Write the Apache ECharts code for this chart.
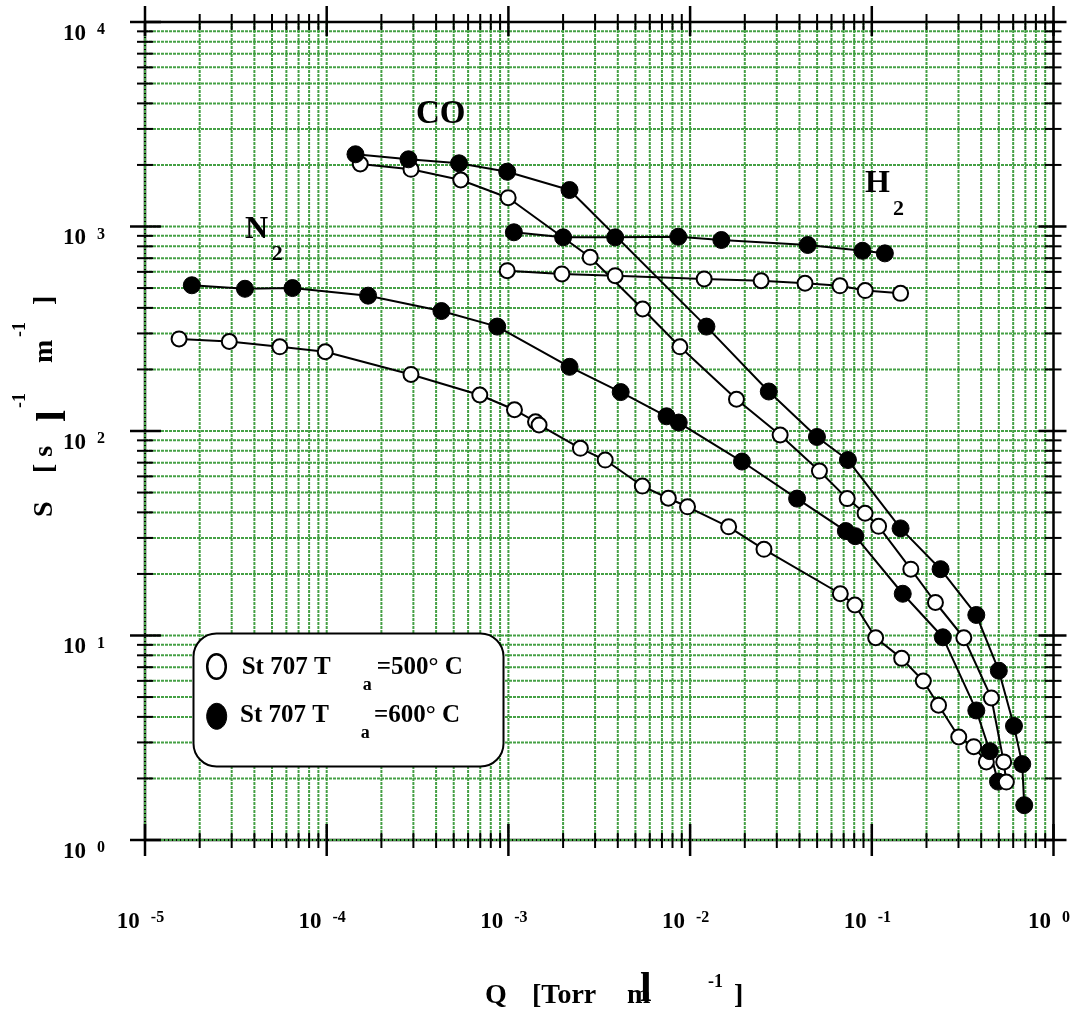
<!DOCTYPE html>
<html><head><meta charset="utf-8">
<script src="https://cdn.jsdelivr.net/npm/echarts@6/dist/echarts.min.js"></script>
<style>html,body{margin:0;padding:0;background:#fff}#c{width:1082px;height:1021px}</style>
</head><body><div id="c"></div>
<script>
// ---- data ----
const n2_500_Q = [1.54e-5, 2.91e-5, 5.52e-5, 9.82e-5, 2.91e-4, 6.96e-4, 1.08e-3, 1.41e-3, 1.475e-3, 2.49e-3, 3.41e-3, 5.46e-3, 7.59e-3, 9.68e-3, 1.63e-2, 2.55e-2, 6.71e-2, 8.07e-2, 0.105, 0.146, 0.192, 0.233, 0.301, 0.364, 0.427];
const n2_500_S = [282, 274, 258, 244, 189, 150, 127, 111, 107, 82.3, 72.1, 53.8, 46.9, 42.6, 34.0, 26.4, 16.0, 14.1, 9.75, 7.73, 5.99, 4.56, 3.19, 2.86, 2.41];
const n2_600_Q = [1.81e-5, 3.55e-5, 6.48e-5, 1.69e-4, 4.28e-4, 8.68e-4, 2.17e-3, 4.15e-3, 7.42e-3, 8.66e-3, 1.93e-2, 3.88e-2, 7.20e-2, 8.11e-2, 0.148, 0.246, 0.376, 0.446, 0.495];
const n2_600_S = [516, 496, 500, 459, 386, 324, 206, 155, 118, 110, 70.9, 46.7, 32.4, 30.6, 16.0, 9.80, 4.30, 2.72, 1.93];
const co_500_Q = [1.53e-4, 2.91e-4, 5.47e-4, 9.97e-4, 2.82e-3, 5.48e-3, 8.79e-3, 1.80e-2, 3.13e-2, 5.15e-2, 7.32e-2, 9.18e-2, 0.109, 0.164, 0.224, 0.321, 0.455, 0.532, 0.550];
const co_500_S = [2021, 1904, 1688, 1383, 707, 395, 258, 143, 95.6, 63.7, 46.7, 39.6, 34.2, 21.1, 14.5, 9.75, 4.95, 2.41, 1.92];
const co_600_Q = [1.44e-4, 2.82e-4, 5.35e-4, 9.85e-4, 2.17e-3, 1.23e-2, 2.71e-2, 4.99e-2, 7.39e-2, 0.144, 0.239, 0.376, 0.500, 0.606, 0.673, 0.690];
const co_600_S = [2255, 2131, 2037, 1853, 1508, 324, 156, 93.5, 72.1, 33.4, 21.1, 12.6, 6.73, 3.61, 2.35, 1.48];
const h2_500_Q = [9.85e-4, 1.97e-3, 3.87e-3, 1.195e-2, 2.46e-2, 4.29e-2, 6.68e-2, 9.20e-2, 0.144];
const h2_500_S = [608, 586, 575, 554, 543, 528, 513, 486, 471];
const h2_600_Q = [1.072e-3, 2.00e-3, 3.87e-3, 8.61e-3, 1.486e-2, 4.44e-2, 8.89e-2, 0.118];
const h2_600_S = [937, 885, 885, 891, 859, 812, 761, 739];

const xTickExp = ['-5', '-4', '-3', '-2', '-1', '0'];
const yTickExp = ['0', '1', '2', '3', '4'];
const xDecades = [-5, -4, -3, -2, -1];
const yDecades = [0, 1, 2, 3];
const mults = [1, 2, 3, 4, 5, 6, 7, 8, 9];
const legendLabels = ['St 707 T', 'a', '=500° C', '=600° C'];
const gasLabels = ['CO', 'N', 'H', '2'];

const FF = '"Liberation Serif","Times New Roman",Times,serif';
const chart = echarts.init(document.getElementById('c'));

function mk(name, q, s, filled) {
  return {
    type: 'line', name, data: q.map((v, i) => [v, s[i]]),
    symbol: 'circle', symbolSize: filled ? 17 : 15, showSymbol: true,
    lineStyle: { color: '#000', width: 2 },
    itemStyle: filled ? { color: '#000', borderColor: '#000', borderWidth: 1 } : { color: '#fff', borderColor: '#000', borderWidth: 2 },
    emphasis: { disabled: true }, z: 3, clip: false, animation: false
  };
}

const labelRich = {
  b: { fontFamily: FF, fontWeight: 'bold', fontSize: 23, lineHeight: 24, color: '#000' },
  s: { fontFamily: FF, fontWeight: 'bold', fontSize: 16, lineHeight: 10, verticalAlign: 'top', color: '#000', padding: [0, 0, 0, 11] },
  sx: { fontFamily: FF, fontWeight: 'bold', fontSize: 16, lineHeight: 10, verticalAlign: 'top', color: '#000', padding: [0, 9, 0, 11] }
};

chart.setOption({
  animation: false,
  backgroundColor: '#fff',
  grid: { left: 145, right: 25, top: 22, bottom: 181, show: true, borderColor: '#000', borderWidth: 2.5, backgroundColor: 'rgba(0,0,0,0)' },
  xAxis: {
    type: 'log', logBase: 10, min: 1e-5, max: 1,
    axisLine: { show: false }, axisTick: { show: false }, splitLine: { show: false },
    axisLabel: {
      margin: 70, verticalAlign: 'top',
      formatter: v => '{b|10}{sx|' + xTickExp[Math.round(Math.log10(v)) + 5] + '}',
      rich: labelRich
    }
  },
  yAxis: {
    type: 'log', logBase: 10, min: 1, max: 1e4,
    axisLine: { show: false }, axisTick: { show: false }, splitLine: { show: false },
    axisLabel: {
      margin: 40, verticalAlign: 'top',
      formatter: v => '{b|10}{s|' + yTickExp[Math.round(Math.log10(v))] + '}',
      rich: labelRich
    }
  },
  series: [
    mk('N2 500', n2_500_Q, n2_500_S, false),
    mk('N2 600', n2_600_Q, n2_600_S, true),
    mk('CO 500', co_500_Q, co_500_S, false),
    mk('CO 600', co_600_Q, co_600_S, true),
    mk('H2 500', h2_500_Q, h2_500_S, false),
    mk('H2 600', h2_600_Q, h2_600_S, true)
  ]
});

const px = v => chart.convertToPixel({ xAxisIndex: 0 }, v);
const py = v => chart.convertToPixel({ yAxisIndex: 0 }, v);
const L = px(1e-5), R = px(1), T = py(1e4), B = py(1);
const els = [];
const gridStyle = { stroke: '#45a045', lineWidth: 2, lineDash: [3, 1] };
const tickStyle = { stroke: '#000', lineWidth: 2 };
const majStyle = { stroke: '#000', lineWidth: 2.5 };
function line(x1, y1, x2, y2, style, z) { els.push({ type: 'line', silent: true, z, shape: { x1, y1, x2, y2 }, style }); }

xDecades.forEach(k => mults.forEach(m => {
  const x = px(m * Math.pow(10, k));
  line(x, T, x, B, gridStyle, 0);
  if (m === 1) { line(x, B - 16, x, B + 16, majStyle, 5); line(x, T - 16, x, T + 14, majStyle, 5); }
  else { line(x, B - 7, x, B + 8, tickStyle, 5); line(x, T - 8, x, T + 8, tickStyle, 5); }
}));
line(R, B - 16, R, B + 16, majStyle, 5); line(R, T - 16, R, T + 14, majStyle, 5);
yDecades.forEach(k => mults.forEach(m => {
  const y = py(m * Math.pow(10, k));
  line(L, y, R, y, gridStyle, 0);
  if (m === 1) { line(L - 15, y, L + 16, y, majStyle, 5); line(R - 15, y, R + 13, y, majStyle, 5); }
  else { line(L - 8, y, L + 8, y, tickStyle, 5); line(R - 9, y, R + 8, y, tickStyle, 5); }
}));
line(L - 15, T, L + 16, T, majStyle, 5); line(R - 15, T, R + 13, T, majStyle, 5);

function txt(text, x, y, size, z) {
  return { type: 'text', x, y, z: z || 8, silent: true,
    style: { text, font: 'bold ' + size + 'px ' + FF, fill: '#000', textAlign: 'left', align: 'left', textVerticalAlign: 'middle', verticalAlign: 'middle' } };
}
// gas labels
els.push(txt(gasLabels[0], 416, 114, 33));
els.push(txt(gasLabels[1], 245, 229.5, 32));
els.push(txt(gasLabels[3], 271.7, 254.7, 22));
els.push(txt(gasLabels[2], 865, 183.3, 32));
els.push(txt(gasLabels[3], 893, 209.5, 22));

// legend box
els.push({ type: 'rect', silent: true, z: 10, shape: { x: 193.5, y: 633.5, width: 310, height: 133, r: 23 }, style: { fill: '#fff', stroke: '#000', lineWidth: 2 } });
els.push({ type: 'ellipse', silent: true, z: 11, shape: { cx: 216.5, cy: 666.5, rx: 9.3, ry: 12.3 }, style: { fill: '#fff', stroke: '#000', lineWidth: 2.5 } });
els.push({ type: 'ellipse', silent: true, z: 11, shape: { cx: 216.7, cy: 716.3, rx: 10, ry: 13 }, style: { fill: '#000', stroke: '#000', lineWidth: 1 } });
els.push(txt(legendLabels[0], 241.7, 668, 25, 11));
els.push(txt(legendLabels[1], 362.7, 685.5, 18, 11));
els.push(txt(legendLabels[2], 376.7, 668, 25, 11));
els.push(txt(legendLabels[0], 240, 715.5, 25, 11));
els.push(txt(legendLabels[1], 360.7, 733, 18, 11));
els.push(txt(legendLabels[3], 374, 715.5, 25, 11));

// x axis title
els.push(txt('Q', 485, 996, 28));
els.push(txt('[Torr', 532, 996, 28));
els.push(txt('m', 627, 996, 28));
els.push(txt('l', 640, 990.5, 42));
els.push(txt('-1', 708, 982.5, 18));
els.push(txt(']', 734, 996, 28));

// y axis title (rotated, reads bottom to top)
els.push({ type: 'group', x: 0, y: 520, rotation: Math.PI / 2, silent: true, children: [
  txt('S', 3, 45, 28), txt('[', 47, 45, 28), txt('s', 63.3, 45, 28), txt('l', 98.3, 54.5, 42),
  txt('-1', 112, 20, 18), txt('m', 157, 45, 28), txt('-1', 183, 20, 18), txt(']', 215, 45, 28)
] });

chart.setOption({ graphic: { elements: els } });
</script>
</body></html>
